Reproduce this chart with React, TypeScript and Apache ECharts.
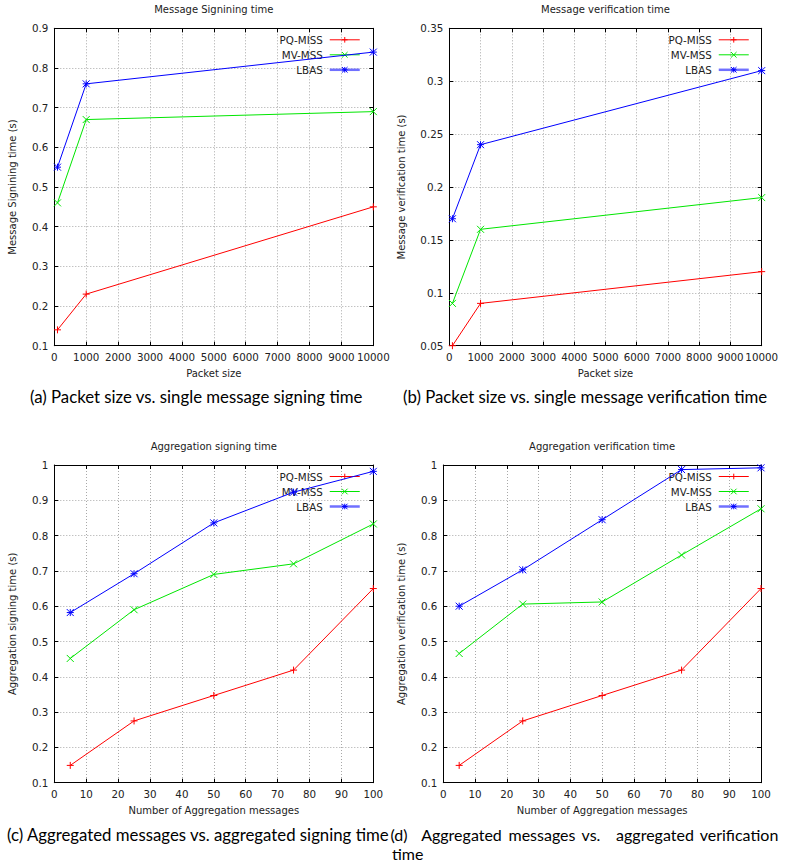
import React, { useEffect, useRef } from "react";
import * as echarts from "echarts";

// x values
const packetSizes = [100, 1000, 10000];
const aggregationCounts = [5, 25, 50, 75, 100];

// (a) single message signing time (s)
const signPqMiss = [0.14, 0.23, 0.45];
const signMvMss = [0.46, 0.67, 0.69];
const signLbas = [0.55, 0.76, 0.84];

// (b) single message verification time (s)
const verifyPqMiss = [0.05, 0.09, 0.12];
const verifyMvMss = [0.09, 0.16, 0.19];
const verifyLbas = [0.17, 0.24, 0.31];

// (c) aggregation signing time (s)
const aggSignPqMiss = [0.149, 0.275, 0.347, 0.419, 0.65];
const aggSignMvMss = [0.452, 0.59, 0.69, 0.72, 0.833];
const aggSignLbas = [0.582, 0.692, 0.836, 0.923, 0.982];

// (d) aggregation verification time (s)
const aggVerifyPqMiss = [0.149, 0.275, 0.347, 0.419, 0.65];
const aggVerifyMvMss = [0.466, 0.606, 0.612, 0.745, 0.876];
const aggVerifyLbas = [0.6, 0.703, 0.845, 0.987, 0.992];

const schemeNames = ["PQ-MISS", "MV-MSS", "LBAS"];
const schemeColors = ["#ff0000", "#00e600", "#0000ff"];
const schemeSymbols = [
  "path://M5,0L5,10M0,5L10,5",
  "path://M0,0L10,10M10,0L0,10",
  "path://M5,0L5,10M0,5L10,5M0,0L10,10M10,0L0,10",
];
// key lines: LBAS is drawn wider and lighter in the key
const legendLineWidths = [1, 1, 2.5];
const legendLineColors = ["#ff0000", "#00e600", "#7070ff"];

const FONT = "DejaVu Sans";
const TEXT = "#222";

type Panel = {
  title: string;
  xName: string;
  yName: string;
  rect: { left: number; top: number; width: number; height: number };
  xs: number[];
  xMax: number;
  xInterval: number;
  yMin: number;
  yMax: number;
  yInterval: number;
  ys: number[][];
  legendRight: number;
  yNameGap: number;
};

const panels: Panel[] = [
  {
    title: "Message Signining time",
    xName: "Packet size",
    yName: "Message Signining time (s)",
    rect: { left: 54.3, top: 28.3, width: 319, height: 317.4 },
    xs: packetSizes,
    xMax: 10000,
    xInterval: 1000,
    yMin: 0.1,
    yMax: 0.9,
    yInterval: 0.1,
    ys: [signPqMiss, signMvMss, signLbas],
    legendRight: 424,
    yNameGap: 37,
  },
  {
    title: "Message verification time",
    xName: "Packet size",
    yName: "Message verification time (s)",
    rect: { left: 449.3, top: 28.3, width: 312.4, height: 317.4 },
    xs: packetSizes,
    xMax: 10000,
    xInterval: 1000,
    yMin: 0.05,
    yMax: 0.35,
    yInterval: 0.05,
    ys: [verifyPqMiss, verifyMvMss, verifyLbas],
    legendRight: 35,
    yNameGap: 43,
  },
  {
    title: "Aggregation signing time",
    xName: "Number of Aggregation messages",
    yName: "Aggregation signing time (s)",
    rect: { left: 54.3, top: 465, width: 319, height: 317.7 },
    xs: aggregationCounts,
    xMax: 100,
    xInterval: 10,
    yMin: 0.1,
    yMax: 1,
    yInterval: 0.1,
    ys: [aggSignPqMiss, aggSignMvMss, aggSignLbas],
    legendRight: 424,
    yNameGap: 37,
  },
  {
    title: "Aggregation verification time",
    xName: "Number of Aggregation messages",
    yName: "Aggregation verification time (s)",
    rect: { left: 443.3, top: 465, width: 317.7, height: 317.7 },
    xs: aggregationCounts,
    xMax: 100,
    xInterval: 10,
    yMin: 0.1,
    yMax: 1,
    yInterval: 0.1,
    ys: [aggVerifyPqMiss, aggVerifyMvMss, aggVerifyLbas],
    legendRight: 35,
    yNameGap: 37,
  },
];

const fmt = (v: number) => String(parseFloat(v.toFixed(3)));

function buildOption() {
  const grid: any[] = [];
  const xAxis: any[] = [];
  const yAxis: any[] = [];
  const series: any[] = [];
  const title: any[] = [];
  const legend: any[] = [];

  const axisLine = { show: true, onZero: false, lineStyle: { color: "#000", width: 1 } };
  const tick = { show: true, inside: true, length: 4, lineStyle: { color: "#000" } };
  const split = { show: true, lineStyle: { color: "#a8a8a8", type: [1, 2], width: 1 } };
  const label = { color: TEXT, fontFamily: FONT, fontSize: 10.3 };

  panels.forEach((p, i) => {
    grid.push({ ...p.rect, containLabel: false });
    const cx = p.rect.left + p.rect.width / 2;
    title.push({
      text: p.title,
      left: cx,
      top: p.rect.top - 23.5,
      textAlign: "center",
      padding: 0,
      textStyle: { fontFamily: FONT, fontSize: 10, fontWeight: "normal", color: TEXT },
    });
    legend.push({
      orient: "vertical",
      right: p.legendRight,
      top: p.rect.top + 6.5,
      padding: 0,
      align: "right",
      itemWidth: 30,
      itemHeight: 7,
      itemGap: 5,
      data: schemeNames.map((n, s) => ({
        name: n,
        itemStyle: { color: schemeColors[s], borderColor: schemeColors[s], borderWidth: 1 },
        lineStyle: { width: legendLineWidths[s], color: legendLineColors[s] },
      })),
      textStyle: { fontFamily: FONT, fontSize: 10.3, color: TEXT, padding: [0, 2, 0, 0] },
    });
    const xCommon = {
      type: "value",
      gridIndex: i,
      min: 0,
      max: p.xMax,
      interval: p.xInterval,
      axisLine,
      axisTick: tick,
    };
    xAxis.push({
      ...xCommon,
      position: "bottom",
      name: p.xName,
      nameLocation: "middle",
      nameGap: 23,
      nameTextStyle: { fontFamily: FONT, fontSize: 10, color: TEXT },
      axisLabel: { ...label, margin: 6, formatter: fmt },
      splitLine: split,
    });
    xAxis.push({
      ...xCommon,
      position: "top",
      axisLabel: { show: false },
      splitLine: { show: false },
    });
    const yCommon = {
      type: "value",
      gridIndex: i,
      min: p.yMin,
      max: p.yMax,
      interval: p.yInterval,
      axisLine,
      axisTick: tick,
    };
    yAxis.push({
      ...yCommon,
      position: "left",
      name: p.yName,
      nameLocation: "middle",
      nameGap: p.yNameGap,
      nameTextStyle: { fontFamily: FONT, fontSize: 10, color: TEXT },
      axisLabel: { ...label, margin: 6, formatter: fmt },
      splitLine: split,
    });
    yAxis.push({
      ...yCommon,
      position: "right",
      axisLabel: { show: false },
      splitLine: { show: false },
    });
    p.ys.forEach((vals, s) => {
      series.push({
        type: "line",
        name: schemeNames[s],
        xAxisIndex: 2 * i,
        yAxisIndex: 2 * i,
        data: p.xs.map((x, k) => [x, vals[k]]),
        symbol: schemeSymbols[s],
        symbolSize: 7,
        showAllSymbol: true,
        clip: false,
        color: schemeColors[s],
        lineStyle: { color: schemeColors[s], width: 1 },
        itemStyle: { color: schemeColors[s], borderColor: schemeColors[s], borderWidth: 1 },
        emphasis: { disabled: true },
        z: 3 + s,
      });
    });
  });

  const capStyle = { fontFamily: "Lato", fontSize: 16.8, fill: "#000" };
  const graphic: any[] = [
    { type: "text", left: 30, top: 388, style: { ...capStyle, text: "(a) Packet size vs. single message signing time" } },
    { type: "text", left: 403, top: 388, style: { ...capStyle, text: "(b) Packet size vs. single message verification time" } },
    { type: "text", left: 7, top: 826, style: { ...capStyle, text: "(c) Aggregated messages vs. aggregated signing time" } },
  ];
  // justified first line of caption (d): words placed by their centres
  const dWords: [string, number][] = [
    ["(d)", 399],
    ["Aggregated", 461.5],
    ["messages", 542],
    ["vs.", 591],
    ["aggregated", 655],
    ["verification", 739],
  ];
  dWords.forEach(([w, x]) => {
    graphic.push({
      type: "text",
      x,
      y: 826,
      style: { ...capStyle, fontSize: 16, text: w, align: "center", verticalAlign: "top" },
    });
  });
  graphic.push({ type: "text", left: 392, top: 845, style: { ...capStyle, fontSize: 16, text: "time" } });

  return {
    animation: false,
    backgroundColor: "#fff",
    title,
    legend,
    grid,
    xAxis,
    yAxis,
    series,
    graphic,
  };
}

export default function App() {
  const ref = useRef<HTMLDivElement>(null);
  useEffect(() => {
    if (!ref.current) return;
    const chart = echarts.init(ref.current, undefined, { renderer: "svg" });
    chart.setOption(buildOption() as any);
    return () => chart.dispose();
  }, []);
  return (
    <div
      ref={ref}
      style={{ position: "fixed", left: 0, top: 0, width: 785, height: 867, background: "#fff" }}
    />
  );
}
